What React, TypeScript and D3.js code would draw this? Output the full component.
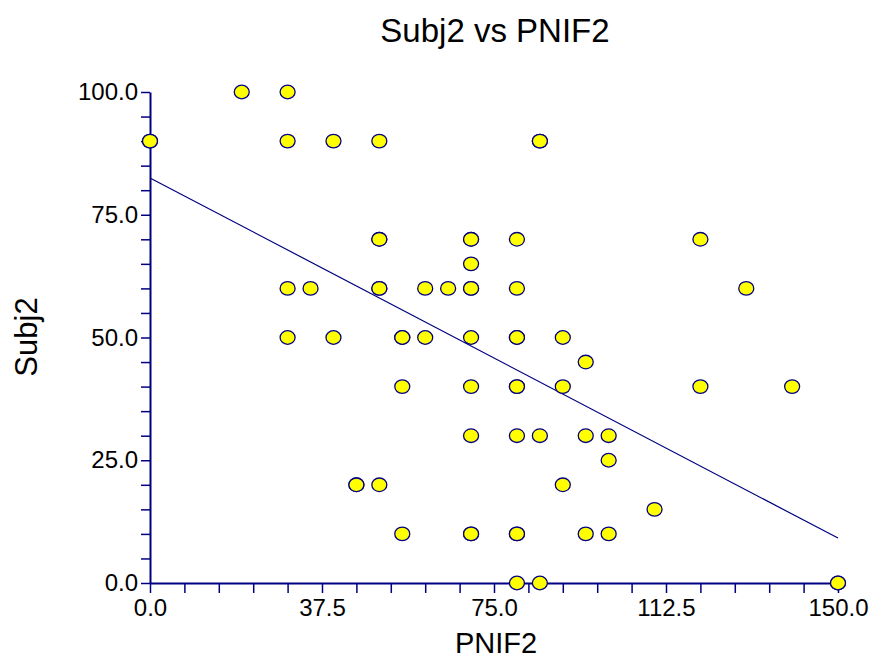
import React, { useEffect } from 'react';
import * as d3 from 'd3';

// PNIF2 (x) and Subj2 (y) pairs, repeats are stacked points
const pnif2 = [0, 0, 20, 30, 30, 40, 50, 85, 85,
  50, 50, 70, 70, 80, 120, 70,
  30, 35, 50, 50, 60, 65, 70, 70, 80, 130,
  30, 40, 55, 55, 60, 70, 80, 80, 90, 95,
  55, 70, 80, 80, 90, 120, 140,
  70, 80, 85, 95, 100, 100,
  45, 45, 50, 90, 110,
  55, 70, 70, 80, 80, 95, 100,
  80, 85, 150, 150];
const subj2 = [90, 90, 100, 100, 90, 90, 90, 90, 90,
  70, 70, 70, 70, 70, 70, 65,
  60, 60, 60, 60, 60, 60, 60, 60, 60, 60,
  50, 50, 50, 50, 50, 50, 50, 50, 50, 45,
  40, 40, 40, 40, 40, 40, 40,
  30, 30, 30, 30, 30, 25,
  20, 20, 20, 20, 15,
  10, 10, 10, 10, 10, 10, 10,
  0, 0, 0, 0];

// fitted line as drawn in the chart
const fitIntercept = 82.5;
const fitSlope = -0.489;

const xTicks = [0, 37.5, 75, 112.5, 150];
const yTicks = [0, 25, 50, 75, 100];

const W = 874;
const H = 659;
const margin = { top: 92, right: 36, bottom: 76, left: 150 };
const axisColor = '#000080';
const font = '"Liberation Sans", Arial, sans-serif';

const App = () => {
  const svgRef = React.useRef<SVGSVGElement>(null);

  useEffect(() => {
    const svg = d3.select(svgRef.current);
    svg.selectAll('*').remove();

    const x = d3.scaleLinear().domain([0, 150]).range([margin.left, W - margin.right]);
    const y = d3.scaleLinear().domain([0, 100]).range([H - margin.bottom, margin.top]);

    // title
    svg.append('text')
      .attr('x', 495).attr('y', 42)
      .attr('text-anchor', 'middle')
      .style('font-family', font).style('font-size', '33px')
      .text('Subj2 vs PNIF2');

    // x axis
    const xAxis = d3.axisBottom(x)
      .tickValues(d3.range(0, 150.01, 7.5))
      .tickSize(10).tickSizeOuter(0)
      .tickFormat(d => xTicks.includes(+d) ? d3.format('.1f')(+d) : '');
    const xg = svg.append('g').attr('transform', `translate(0,${y(0)})`).call(xAxis);

    // y axis
    const yAxis = d3.axisLeft(y)
      .tickValues(d3.range(0, 100.01, 5))
      .tickSize(9).tickSizeOuter(0)
      .tickFormat(d => yTicks.includes(+d) ? d3.format('.1f')(+d) : '');
    const yg = svg.append('g').attr('transform', `translate(${x(0)},0)`).call(yAxis);

    [xg, yg].forEach(g => {
      g.select('.domain').attr('stroke', axisColor).attr('stroke-width', 2);
      g.selectAll('.tick line').attr('stroke', axisColor).attr('stroke-width', 1.5);
      g.selectAll('.tick text')
        .attr('fill', '#000')
        .style('font-family', font).style('font-size', '24px');
    });
    xg.selectAll('.tick text').attr('dy', '0.71em').attr('y', 16);
    yg.selectAll('.tick text').attr('x', -12);

    // axis titles
    svg.append('text')
      .attr('x', 496).attr('y', 653)
      .attr('text-anchor', 'middle')
      .style('font-family', font).style('font-size', '29px')
      .text('PNIF2');
    svg.append('text')
      .attr('transform', `translate(37,${337}) rotate(-90)`)
      .attr('text-anchor', 'middle')
      .style('font-family', font).style('font-size', '31px')
      .text('Subj2');

    // fit line
    svg.append('line')
      .attr('x1', x(0)).attr('y1', y(fitIntercept))
      .attr('x2', x(150)).attr('y2', y(fitIntercept + fitSlope * 150))
      .attr('stroke', axisColor).attr('stroke-width', 1.2);

    // points
    const pts = pnif2.map((v, i) => ({ px: v, sy: subj2[i] }));
    svg.append('g').selectAll('ellipse')
      .data(pts)
      .join('ellipse')
      .attr('cx', d => x(d.px))
      .attr('cy', d => y(d.sy))
      .attr('rx', 7.5).attr('ry', 6.8)
      .attr('fill', '#ffff00')
      .attr('stroke', axisColor)
      .attr('stroke-width', 1.3);
  }, []);

  return (
    <svg ref={svgRef} width={W} height={H}
      style={{ position: 'absolute', left: 0, top: 0, background: '#fff' }} />
  );
};

export default App;
